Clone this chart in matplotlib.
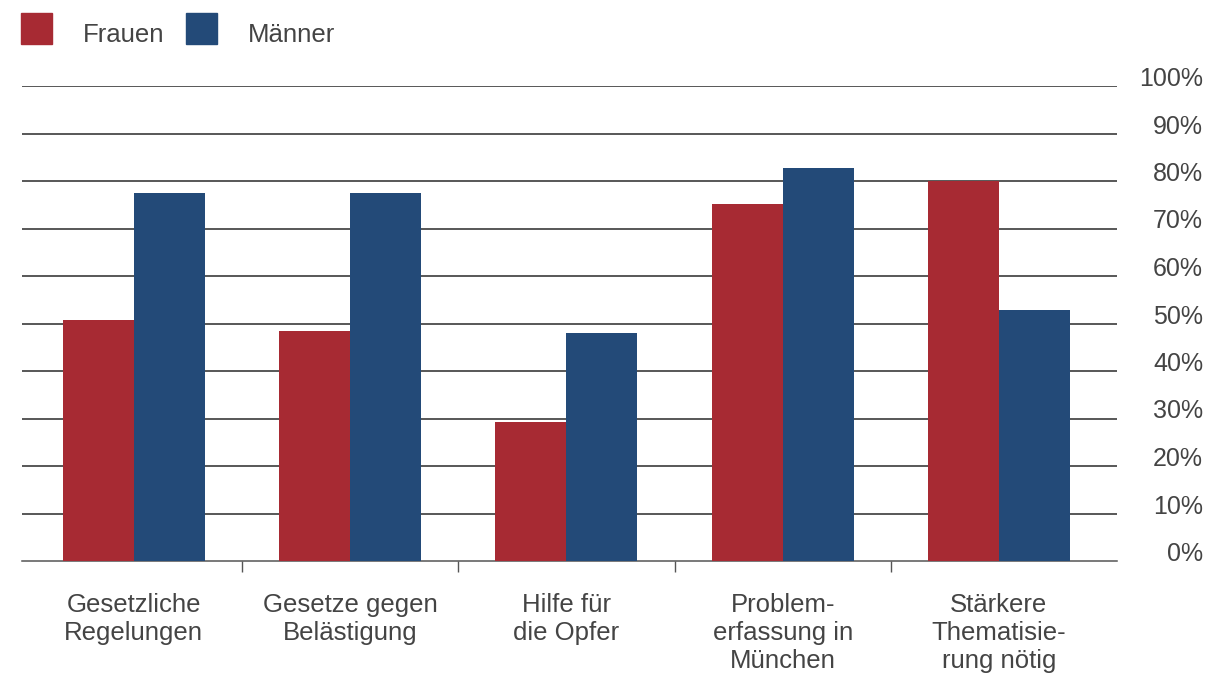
import matplotlib
matplotlib.use("Agg")
import matplotlib.pyplot as plt
from matplotlib.patches import Rectangle
import numpy as np

categories = ["Gesetzliche\nRegelungen", "Gesetze gegen\nBelästigung", "Hilfe für\ndie Opfer",
              "Problem-\nerfassung in\nMünchen", "Stärkere\nThematisie-\nrung nötig"]
frauen = [50.7, 48.4, 29.3, 75.1, 80.0]
maenner = [77.5, 77.5, 47.9, 82.7, 52.8]
yticks = [0, 10, 20, 30, 40, 50, 60, 70, 80, 90, 100]
ytick_labels = [f"{v}%" for v in yticks]

red = "#A72A33"
blue = "#234A78"
txt = "#444444"

plt.rcParams['font.family'] = ['Liberation Sans', 'DejaVu Sans']

W, H = 1211, 675
fig = plt.figure(figsize=(W / 100, H / 100), dpi=100)
ax = fig.add_axes([22 / W, 1 - 561 / H, (1117 - 22) / W, (561 - 86) / H])

x = np.arange(len(categories))
bw = 0.328
ax.bar(x - bw / 2, frauen, bw, color=red, zorder=3)
ax.bar(x + bw / 2, maenner, bw, color=blue, zorder=3)

ax.set_xlim(-0.517, 4.546)
ax.set_ylim(0, 100)

for v in yticks[1:]:
    ax.axhline(v, color="#2a2a2a", lw=1.1, zorder=1)
for s in ["top", "left", "right"]:
    ax.spines[s].set_visible(False)
ax.spines["bottom"].set_color("#555555")
ax.spines["bottom"].set_linewidth(1.1)

ax.yaxis.tick_right()
ax.set_yticks(yticks)
ax.set_yticklabels(ytick_labels, ha="right", va="baseline", fontsize=18, color=txt)
ax.tick_params(axis="y", length=0, pad=62)

ax.set_xticks(x)
ax.set_xticklabels(categories, fontsize=18.5, color=txt, linespacing=1.2)
ax.tick_params(axis="x", which="major", length=0, pad=23)
ax.set_xticks(x[:-1] + 0.5, minor=True)
ax.tick_params(axis="x", which="minor", length=8, width=1, color="#555555", direction="out")

# legend
for px, col, label, tx in [(21, red, "Frauen", 83), (186, blue, "Männer", 248)]:
    fig.patches.append(Rectangle((px / W, 1 - 44 / H), 31 / W, 31 / H,
                                 transform=fig.transFigure, color=col))
    fig.text(tx / W, 1 - 42 / H, label, fontsize=18.5, color=txt, va="baseline", ha="left")

fig.savefig("out.png", dpi=100)
